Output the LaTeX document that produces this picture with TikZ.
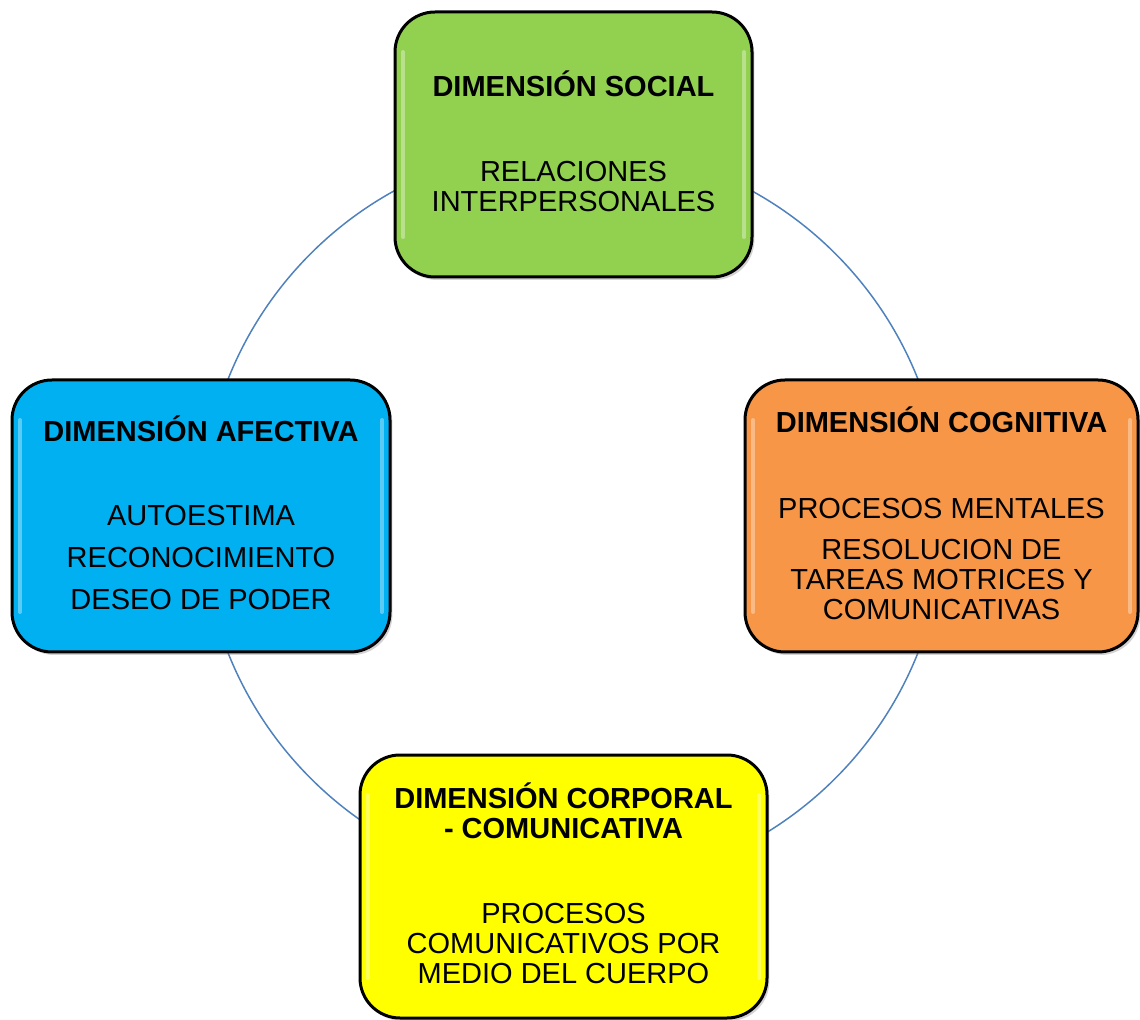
\documentclass[tikz,border=0pt]{standalone}
\usepackage{fontspec}
\setmainfont{Liberation Sans}
\usetikzlibrary{shadows}
\definecolor{socialgreen}{HTML}{92D050}
\definecolor{afectblue}{HTML}{00B0F0}
\definecolor{cognorange}{HTML}{F79646}
\definecolor{corpyellow}{HTML}{FFFF00}
\definecolor{ringblue}{HTML}{4F81BD}
\begin{document}
\begin{tikzpicture}[x=0.5pt,y=-0.5pt,
	dimbox/.style={draw=black,line width=1.5pt,rounded corners=20pt,align=center,inner sep=0pt,
		font=\fontsize{14.5}{15}\selectfont,text depth=3pt,
		drop shadow={shadow xshift=1.2pt,shadow yshift=-1.5pt,opacity=0.35},
		path picture={
			\draw[white,opacity=0.35,line width=2pt,line cap=round]
				([xshift=4pt,yshift=-20pt]path picture bounding box.north west) -- ([xshift=4pt,yshift=20pt]path picture bounding box.south west)
				([xshift=-4pt,yshift=-20pt]path picture bounding box.north east) -- ([xshift=-4pt,yshift=20pt]path picture bounding box.south east);
		}},
	ring/.style={draw=ringblue,line width=0.75pt}]
			\useasboundingbox (0,0) rectangle (1140,1020);
			\coordinate (hub) at (573,516);
			\draw [ring] (hub) circle (185.5pt);
			% the four dimensions
			\node [dimbox,fill=socialgreen,minimum width=178.5pt,minimum height=132.5pt] (social) at (573.5,144.5)
				{\textbf{DIMENSIÓN SOCIAL}\\[27.5pt]RELACIONES\\INTERPERSONALES};
			\node [dimbox,fill=afectblue,minimum width=189pt,minimum height=136pt] (afectiva) at (201,516)
				{\textbf{DIMENSIÓN AFECTIVA}\\[27pt]AUTOESTIMA\\[6pt]RECONOCIMIENTO\\[6pt]DESEO DE PODER};
			\node [dimbox,fill=cognorange,minimum width=196.5pt,minimum height=136pt] (cognitiva) at (941.5,516)
				{\textbf{DIMENSIÓN COGNITIVA}\\[28pt]PROCESOS MENTALES\\[5.5pt]RESOLUCION DE\\TAREAS MOTRICES Y\\COMUNICATIVAS};
			\node [dimbox,fill=corpyellow,minimum width=203.5pt,minimum height=131.5pt] (corporal) at (563.5,886.5)
				{\textbf{DIMENSIÓN CORPORAL}\\\textbf{- COMUNICATIVA}\\[27.5pt]PROCESOS\\COMUNICATIVOS POR\\MEDIO DEL CUERPO};
			\end{tikzpicture}
\end{document}
